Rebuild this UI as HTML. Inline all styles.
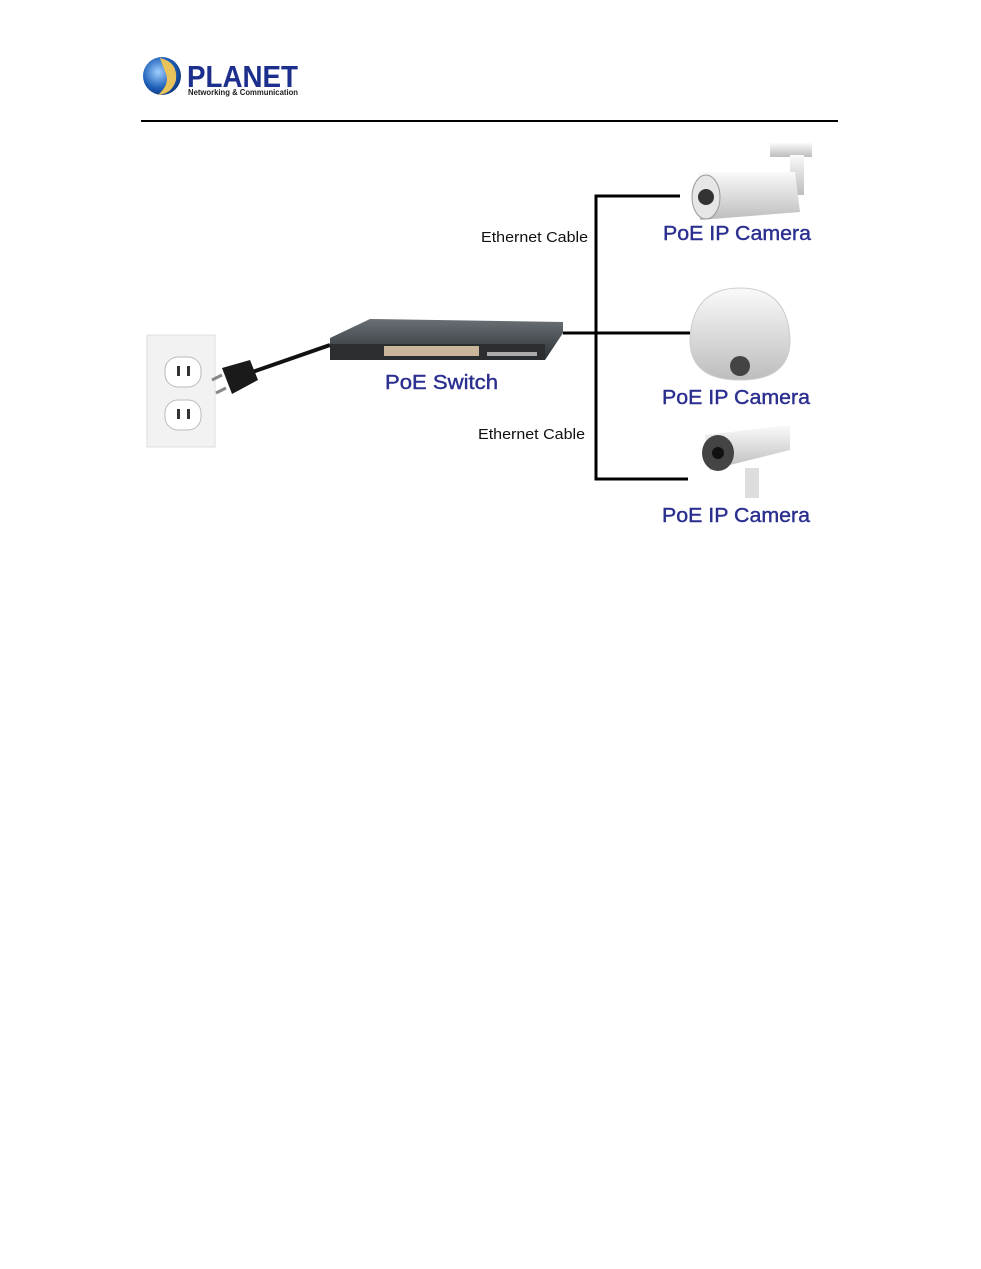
<!DOCTYPE html>
<html><head><style>
body{margin:0;background:#fff;width:981px;height:1269px;overflow:hidden;font-family:"Liberation Sans",sans-serif}
</style></head><body>
<svg width="981" height="1269" xmlns="http://www.w3.org/2000/svg" style="position:absolute;left:0;top:0">
<defs>
<radialGradient id="g1" cx="0.4" cy="0.4" r="0.7"><stop offset="0" stop-color="#9fd0ff"/><stop offset="0.6" stop-color="#1e5fb8"/><stop offset="1" stop-color="#0d2e6e"/></radialGradient>
<linearGradient id="sw" x1="0" y1="0" x2="0" y2="1"><stop offset="0" stop-color="#6a7075"/><stop offset="1" stop-color="#2b3034"/></linearGradient>
<linearGradient id="cam" x1="0" y1="0" x2="0" y2="1"><stop offset="0" stop-color="#fafafa"/><stop offset="1" stop-color="#bdbdbd"/></linearGradient>
</defs>
<!-- logo -->
<circle cx="162" cy="76" r="19" fill="url(#g1)"/>
<path d="M160 58 Q178 62 176 80 Q172 94 158 95 Q170 84 166 74 Q162 64 160 58Z" fill="#e8c25a"/>
<text x="187" y="87" font-size="31" font-weight="bold" fill="#1c2f8c" textLength="111" lengthAdjust="spacingAndGlyphs">PLANET</text>
<text x="188" y="95" font-size="8" font-weight="bold" fill="#222" textLength="110" lengthAdjust="spacingAndGlyphs">Networking &amp; Communication</text>
<rect x="141" y="120" width="697" height="2" fill="#000"/>
<!-- outlet -->
<rect x="147" y="335" width="68" height="112" fill="#f2f2f2" stroke="#ddd"/>
<rect x="165" y="357" width="36" height="30" rx="13" fill="#fff" stroke="#bbb"/>
<rect x="165" y="400" width="36" height="30" rx="13" fill="#fff" stroke="#bbb"/>
<rect x="177" y="366" width="3" height="10" fill="#333"/><rect x="187" y="366" width="3" height="10" fill="#333"/>
<rect x="177" y="409" width="3" height="10" fill="#333"/><rect x="187" y="409" width="3" height="10" fill="#333"/>
<!-- plug & cord -->
<path d="M238 377 L330 345" stroke="#111" stroke-width="4"/>
<path d="M222 368 L250 360 L258 380 L232 394 Z" fill="#1a1a1a"/>
<path d="M222 375 L212 380 M226 388 L216 393" stroke="#888" stroke-width="3"/>
<!-- switch -->
<path d="M330 338 L370 319 L563 322 L563 333 L545 360 L330 360 Z" fill="url(#sw)"/>
<rect x="330" y="344" width="215" height="16" fill="#2a2e31"/>
<rect x="384" y="346" width="95" height="10" fill="#c9b69a"/>
<rect x="487" y="352" width="50" height="4" fill="#aaa"/>
<!-- cables -->
<g stroke="#000" stroke-width="3" fill="none">
<path d="M680 196 L596 196 L596 479 L688 479"/>
<path d="M563 333 L690 333"/>
</g>
<!-- top camera -->
<rect x="770" y="143" width="42" height="14" fill="url(#cam)"/>
<rect x="790" y="155" width="14" height="40" fill="url(#cam)"/>
<path d="M698 172 L795 172 L800 212 L700 220 Z" fill="url(#cam)"/>
<ellipse cx="706" cy="197" rx="14" ry="22" fill="#e6e6e6" stroke="#999"/>
<circle cx="706" cy="197" r="8" fill="#333"/>
<!-- dome -->
<path d="M690 340 Q692 288 740 288 Q788 288 790 340 Q790 380 740 380 Q690 380 690 340Z" fill="url(#cam)" stroke="#ccc"/>
<circle cx="740" cy="366" r="10" fill="#444"/>
<!-- bottom camera -->
<path d="M705 435 L790 425 L790 450 L710 470 Z" fill="url(#cam)"/>
<ellipse cx="718" cy="453" rx="16" ry="18" fill="#444"/>
<circle cx="718" cy="453" r="6" fill="#111"/>
<rect x="745" y="468" width="14" height="30" fill="#ddd"/>
<!-- text -->
<g font-size="15" fill="#111">
<text x="481" y="242" textLength="107" lengthAdjust="spacingAndGlyphs">Ethernet Cable</text>
<text x="478" y="439" textLength="107" lengthAdjust="spacingAndGlyphs">Ethernet Cable</text>
</g>
<g font-size="20" fill="#2b2f8f" stroke="#2b2f8f" stroke-width="0.4">
<text x="385" y="389" textLength="113" lengthAdjust="spacingAndGlyphs">PoE Switch</text>
<text x="663" y="240" textLength="148" lengthAdjust="spacingAndGlyphs">PoE IP Camera</text>
<text x="662" y="404" textLength="148" lengthAdjust="spacingAndGlyphs">PoE IP Camera</text>
<text x="662" y="522" textLength="148" lengthAdjust="spacingAndGlyphs">PoE IP Camera</text>
</g>
</svg>
</body></html>
